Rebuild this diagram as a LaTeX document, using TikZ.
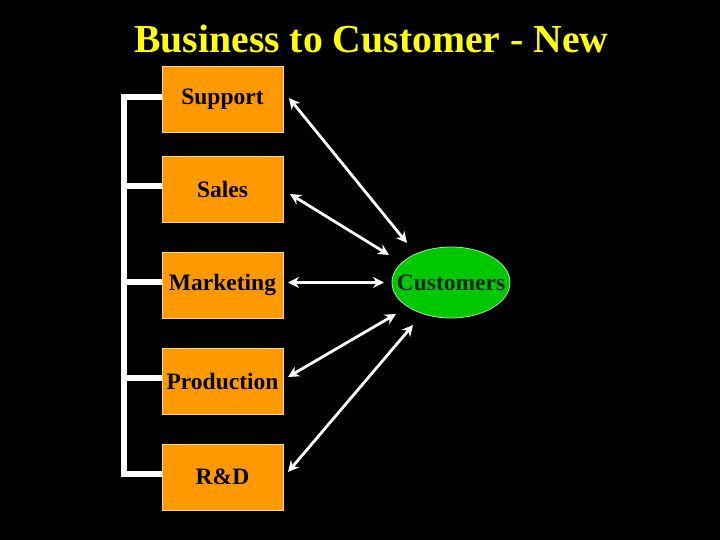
\documentclass[tikz,border=0pt]{standalone}
\usepackage{fontspec}
\setmainfont{Liberation Serif}
\usetikzlibrary{arrows.meta,shapes.geometric}
\definecolor{boxorange}{HTML}{FF9900}
\definecolor{custgreen}{HTML}{00C800}
\definecolor{titleyellow}{HTML}{FFFF00}
\tikzset{
  dept/.style={draw=boxorange!40!white, line width=0.8pt, fill=boxorange, minimum width=121pt, minimum height=66pt, inner sep=0pt, text=black, font=\fontsize{23.5}{27}\selectfont\bfseries},
  cust/.style={ellipse, draw=custgreen!40!white, line width=0.8pt, fill=custgreen, minimum width=118pt, minimum height=71pt, inner sep=0pt, text=black!85!green, font=\fontsize{23.5}{27}\selectfont\bfseries},
  bracket/.style={draw=white, line width=6pt},
  arr/.style={draw=white, line width=2.8pt, {Stealth[length=11pt,width=11pt]}-{Stealth[length=11pt,width=11pt]}}
}
\begin{document}
\begin{tikzpicture}[x=1pt,y=-1pt]
\fill[black] (0,0) rectangle (720,540);
\useasboundingbox (0,0) rectangle (720,540);
\node[anchor=base, text=titleyellow, font=\fontsize{39.7}{44}\selectfont\bfseries] (title) at (371.5,53) {Business to Customer - New};
\node[dept] (sup) at (222.5,99.5) {Support};
\node[dept] (sal) at (222.5,189.5) {Sales};
\node[dept] (mkt) at (222.5,285) {Marketing};
\node[dept] (pro) at (222.5,381) {Production};
\node[dept] (rnd) at (222.5,477) {R\&D};
\node[cust] (cus) at (451,282.5) {\makebox[0pt]{Customers}};
% bracket
\path[bracket] ([yshift=2pt]sup.west) -- ++(-38,0) |- ([yshift=3pt]rnd.west);
\path[bracket] ([yshift=3pt]sal.west) -- ++(-38,0);
\path[bracket] ([yshift=3pt]mkt.west) -- ++(-38,0);
\path[bracket] ([yshift=3pt]pro.west) -- ++(-38,0);
% arrow ends
\coordinate (s1) at (289,98);   \coordinate (c1) at (407,243);
\coordinate (s2) at (290,194);  \coordinate (c2) at (389,255);
\coordinate (s3) at (288,282.5);  \coordinate (c3) at (384,282.5);
\coordinate (s4) at (288,377);  \coordinate (c4) at (396,314);
\coordinate (s5) at (288,472);  \coordinate (c5) at (413,325);
\path[arr] (s1) -- (c1);
\path[arr] (s2) -- (c2);
\path[arr] (s3) -- (c3);
\path[arr] (s4) -- (c4);
\path[arr] (s5) -- (c5);
\end{tikzpicture}
\end{document}
